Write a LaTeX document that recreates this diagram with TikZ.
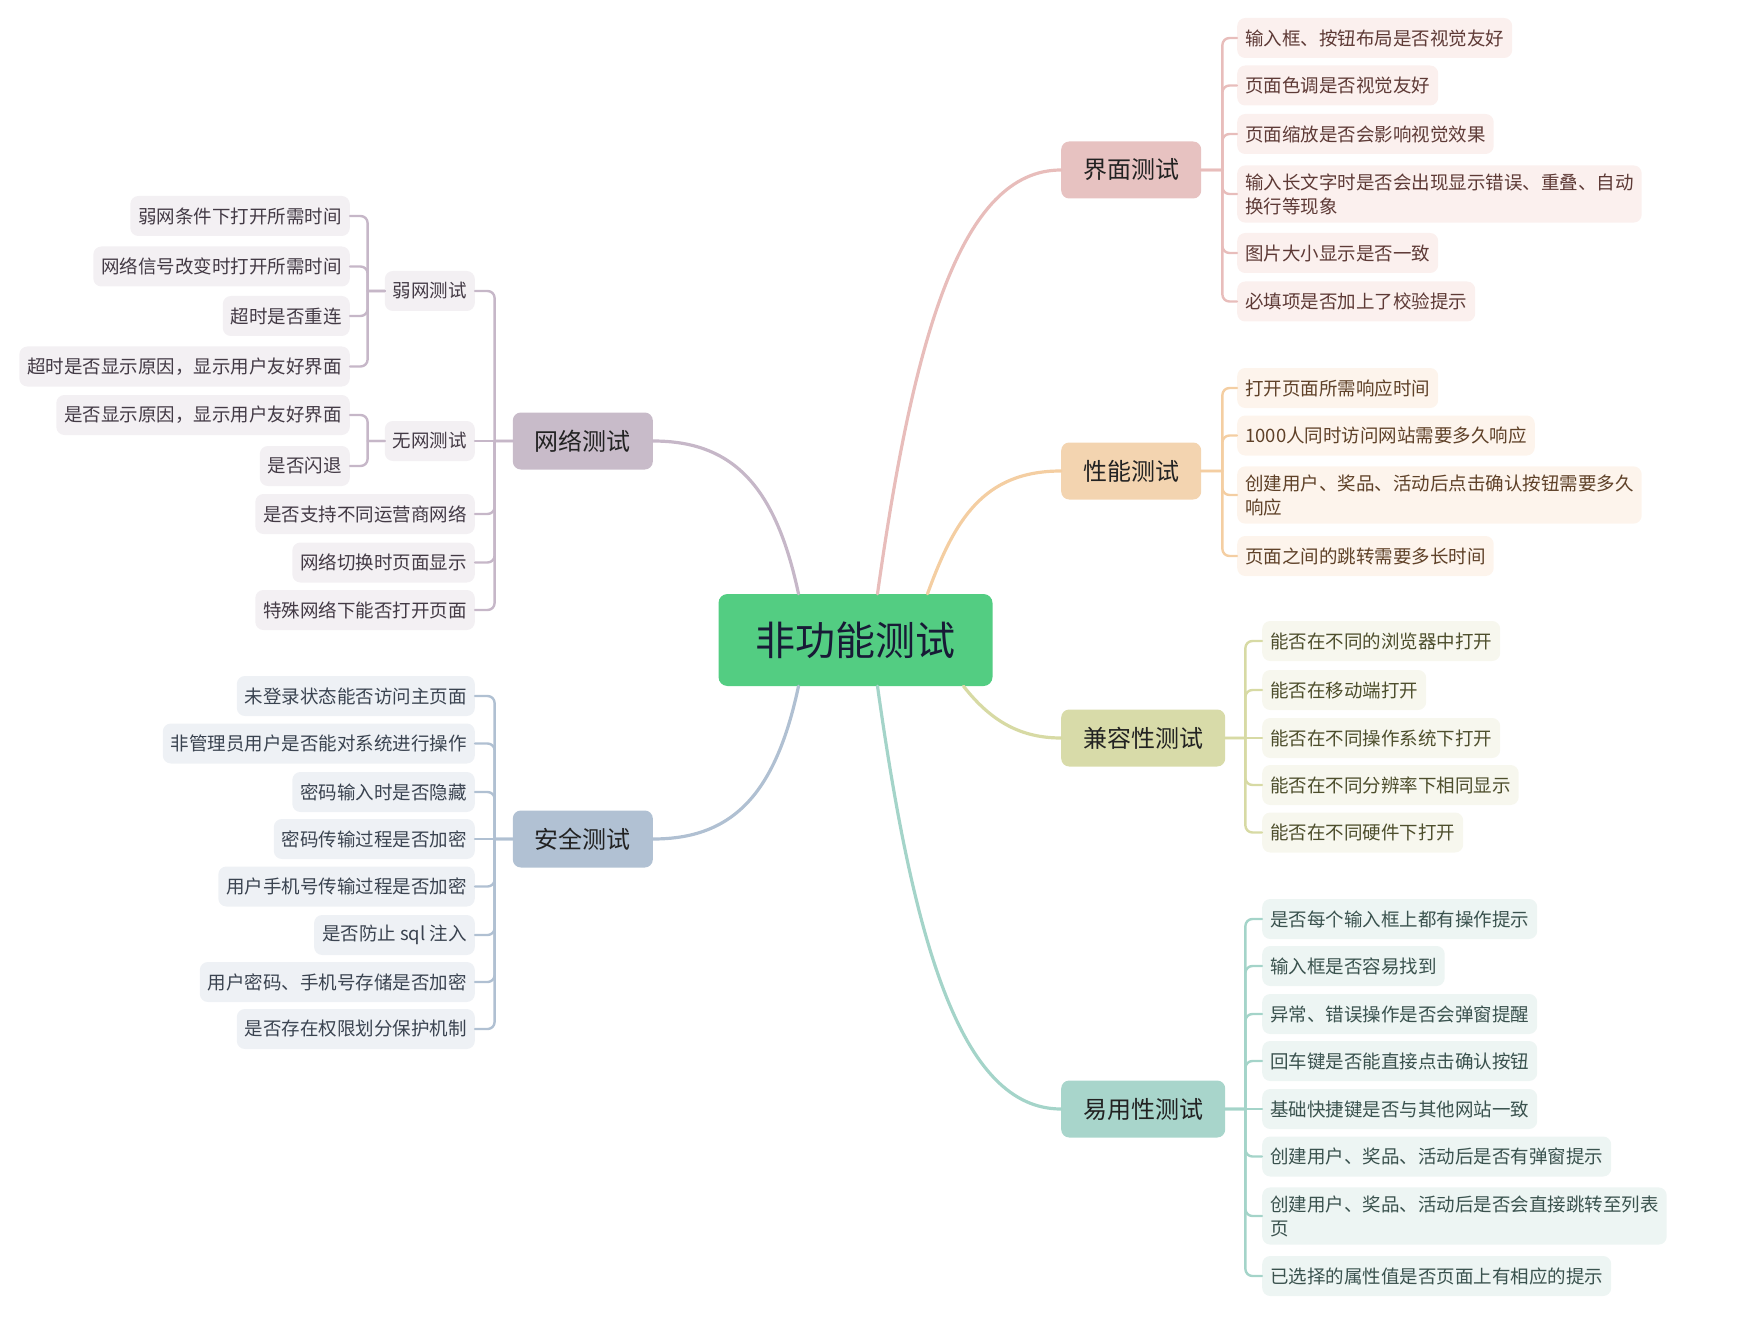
\documentclass[tikz,border=0pt]{standalone}
\usepackage{fontspec}
\setmainfont{Noto Sans CJK SC}

\definecolor{rootFill}{HTML}{53CD82}
\definecolor{rootText}{HTML}{181A36}
\definecolor{topicText}{HTML}{222222}
\definecolor{uiFill}{HTML}{E7C2C1}
\definecolor{uiLine}{HTML}{E8BDBB}
\definecolor{uiLeaf}{HTML}{FBF0EE}
\definecolor{uiText}{HTML}{5E3A36}
\definecolor{perfFill}{HTML}{F3D4B0}
\definecolor{perfLine}{HTML}{F4CEA2}
\definecolor{perfLeaf}{HTML}{FDF4EC}
\definecolor{perfText}{HTML}{5F4128}
\definecolor{compFill}{HTML}{D8DBA9}
\definecolor{compLine}{HTML}{D7DAA4}
\definecolor{compLeaf}{HTML}{F7F7EE}
\definecolor{compText}{HTML}{4D4E2C}
\definecolor{useFill}{HTML}{A8D5CB}
\definecolor{useLine}{HTML}{A4D4C9}
\definecolor{useLeaf}{HTML}{EDF5F3}
\definecolor{useText}{HTML}{3A524E}
\definecolor{netFill}{HTML}{C8BBC9}
\definecolor{netLine}{HTML}{C6B7C8}
\definecolor{netLeaf}{HTML}{F3F0F3}
\definecolor{netText}{HTML}{433A45}
\definecolor{secFill}{HTML}{B1C1D3}
\definecolor{secLine}{HTML}{B0C0D2}
\definecolor{secLeaf}{HTML}{EEF1F5}
\definecolor{secText}{HTML}{3A4350}

\begin{document}
\begin{tikzpicture}[x=1pt,y=1pt,line cap=round,
  root node/.style={rectangle,rounded corners=9pt,fill=rootFill,text=rootText,inner xsep=37pt,minimum height=92pt,font=\fontsize{40}{48}\selectfont},
  topic node/.style={rectangle,rounded corners=8pt,inner xsep=22pt,minimum height=57pt,text=topicText,font=\fontsize{24}{29}\selectfont},
  leaf node/.style={rectangle,rounded corners=8pt,inner xsep=8pt,inner ysep=8pt,minimum height=40pt,align=left,font=\fontsize{18.5}{24}\selectfont},
  ui leaf/.style={leaf node,anchor=west,fill=uiLeaf,text=uiText},
  perf leaf/.style={leaf node,anchor=west,fill=perfLeaf,text=perfText},
  comp leaf/.style={leaf node,anchor=west,fill=compLeaf,text=compText},
  use leaf/.style={leaf node,anchor=west,fill=useLeaf,text=useText},
  net leaf/.style={leaf node,anchor=east,fill=netLeaf,text=netText},
  sec leaf/.style={leaf node,anchor=east,fill=secLeaf,text=secText},
  elbow/.style={to path={-- ++(#1,0) ++(0,0) [rounded corners=7pt] |- (\tikztotarget)}}]

  \useasboundingbox (0,0) rectangle (1762,-1332);

  \node[root node] (0) at (855.5,-640) {非功能测试};

  \node[topic node,fill=uiFill,anchor=west] (1) at (1061,-170) {界面测试};
  \node[topic node,fill=perfFill,anchor=west] (2) at (1061,-471) {性能测试};
  \node[topic node,fill=compFill,anchor=west] (3) at (1061,-738) {兼容性测试};
  \node[topic node,fill=useFill,anchor=west] (4) at (1061,-1109) {易用性测试};
  \node[topic node,fill=netFill,anchor=east] (5) at (653,-441) {网络测试};
  \node[topic node,fill=secFill,anchor=east] (6) at (653,-839) {安全测试};

  % 界面测试
  \node[ui leaf] (11) at (1237,-38) {输入框、按钮布局是否视觉友好};
  \node[ui leaf] (12) at (1237,-85.5) {页面色调是否视觉友好};
  \node[ui leaf] (13) at (1237,-134) {页面缩放是否会影响视觉效果};
  \node[ui leaf] (14) at (1237,-194) {输入长文字时是否会出现显示错误、重叠、自动\\换行等现象};
  \node[ui leaf] (15) at (1237,-253) {图片大小显示是否一致};
  \node[ui leaf] (16) at (1237,-301.5) {必填项是否加上了校验提示};

  % 性能测试
  \node[perf leaf] (21) at (1237,-388) {打开页面所需响应时间};
  \node[perf leaf] (22) at (1237,-435.5) {1000人同时访问网站需要多久响应};
  \node[perf leaf] (23) at (1237,-495) {创建用户、奖品、活动后点击确认按钮需要多久\\响应};
  \node[perf leaf] (24) at (1237,-556) {页面之间的跳转需要多长时间};

  % 兼容性测试
  \node[comp leaf] (31) at (1262,-641) {能否在不同的浏览器中打开};
  \node[comp leaf] (32) at (1262,-690) {能否在移动端打开};
  \node[comp leaf] (33) at (1262,-738) {能否在不同操作系统下打开};
  \node[comp leaf] (34) at (1262,-785) {能否在不同分辨率下相同显示};
  \node[comp leaf] (35) at (1262,-832.5) {能否在不同硬件下打开};

  % 易用性测试
  \node[use leaf] (41) at (1262,-919) {是否每个输入框上都有操作提示};
  \node[use leaf] (42) at (1262,-966) {输入框是否容易找到};
  \node[use leaf] (43) at (1262,-1014) {异常、错误操作是否会弹窗提醒};
  \node[use leaf] (44) at (1262,-1061) {回车键是否能直接点击确认按钮};
  \node[use leaf] (45) at (1262,-1109) {基础快捷键是否与其他网站一致};
  \node[use leaf] (46) at (1262,-1156.5) {创建用户、奖品、活动后是否有弹窗提示};
  \node[use leaf] (47) at (1262,-1216) {创建用户、奖品、活动后是否会直接跳转至列表\\页};
  \node[use leaf] (48) at (1262,-1276) {已选择的属性值是否页面上有相应的提示};

  % 网络测试
  \node[net leaf] (51) at (475,-291) {弱网测试};
  \node[net leaf] (52) at (475,-441) {无网测试};
  \node[net leaf] (53) at (475,-514) {是否支持不同运营商网络};
  \node[net leaf] (54) at (475,-562.5) {网络切换时页面显示};
  \node[net leaf] (55) at (475,-610) {特殊网络下能否打开页面};
  \node[net leaf] (511) at (350,-216) {弱网条件下打开所需时间};
  \node[net leaf] (512) at (350,-266.5) {网络信号改变时打开所需时间};
  \node[net leaf] (513) at (350,-316) {超时是否重连};
  \node[net leaf] (514) at (350,-366.5) {超时是否显示原因，显示用户友好界面};
  \node[net leaf] (521) at (350,-415) {是否显示原因，显示用户友好界面};
  \node[net leaf] (522) at (350,-466) {是否闪退};

  % 安全测试
  \node[sec leaf] (61) at (475,-696) {未登录状态能否访问主页面};
  \node[sec leaf] (62) at (475,-743.5) {非管理员用户是否能对系统进行操作};
  \node[sec leaf] (63) at (475,-792) {密码输入时是否隐藏};
  \node[sec leaf] (64) at (475,-839) {密码传输过程是否加密};
  \node[sec leaf] (65) at (475,-886.5) {用户手机号传输过程是否加密};
  \node[sec leaf] (66) at (475,-935) {是否防止 sql 注入};
  \node[sec leaf] (67) at (475,-982) {用户密码、手机号存储是否加密};
  \node[sec leaf] (68) at (475,-1029) {是否存在权限划分保护机制};

  \path[line width=3.2pt]
    ([xshift=-57pt]0.north) edge[out=102,in=0,out distance=110pt,in distance=80pt,netLine] (5.east)
    ([xshift=-57pt]0.south) edge[out=-102,in=0,out distance=110pt,in distance=80pt,secLine] (6.east)
    ([xshift=22pt]0.north) edge[out=82,in=180,out distance=260pt,in distance=100pt,uiLine] (1.west)
    ([xshift=72pt]0.north) edge[out=70,in=180,out distance=78pt,in distance=78pt,perfLine] (2.west)
    ([xshift=108pt]0.south) edge[out=-52,in=180,out distance=45pt,in distance=40pt,compLine] (3.west)
    ([xshift=22pt]0.south) edge[out=-82,in=180,out distance=260pt,in distance=100pt,useLine] (4.west);

  \path[line width=2.4pt,draw=uiLine]
    (1.east) edge[elbow=21] (11.west)
    (1.east) edge[elbow=21] (12.west)
    (1.east) edge[elbow=21] (13.west)
    (1.east) edge[elbow=21] (14.west)
    (1.east) edge[elbow=21] (15.west)
    (1.east) edge[elbow=21] (16.west);
  \path[line width=2.4pt,draw=perfLine]
    (2.east) edge[elbow=21] (21.west)
    (2.east) edge[elbow=21] (22.west)
    (2.east) edge[elbow=21] (23.west)
    (2.east) edge[elbow=21] (24.west);
  \path[line width=2.4pt,draw=compLine]
    (3.east) edge[elbow=20] (31.west)
    (3.east) edge[elbow=20] (32.west)
    (3.east) edge (33.west)
    (3.east) edge[elbow=20] (34.west)
    (3.east) edge[elbow=20] (35.west);
  \path[line width=2.4pt,draw=useLine]
    (4.east) edge[elbow=20] (41.west)
    (4.east) edge[elbow=20] (42.west)
    (4.east) edge[elbow=20] (43.west)
    (4.east) edge[elbow=20] (44.west)
    (4.east) edge (45.west)
    (4.east) edge[elbow=20] (46.west)
    (4.east) edge[elbow=20] (47.west)
    (4.east) edge[elbow=20] (48.west);
  \path[line width=2.4pt,draw=netLine]
    (5.west) edge[elbow=-18] (51.east)
    (5.west) edge (52.east)
    (5.west) edge[elbow=-18] (53.east)
    (5.west) edge[elbow=-18] (54.east)
    (5.west) edge[elbow=-18] (55.east)
    (51.west) edge[elbow=-17] (511.east)
    (51.west) edge[elbow=-17] (512.east)
    (51.west) edge[elbow=-17] (513.east)
    (51.west) edge[elbow=-17] (514.east)
    (52.west) edge[elbow=-17] (521.east)
    (52.west) edge[elbow=-17] (522.east);
  \path[line width=2.4pt,draw=secLine]
    (6.west) edge[elbow=-18] (61.east)
    (6.west) edge[elbow=-18] (62.east)
    (6.west) edge[elbow=-18] (63.east)
    (6.west) edge (64.east)
    (6.west) edge[elbow=-18] (65.east)
    (6.west) edge[elbow=-18] (66.east)
    (6.west) edge[elbow=-18] (67.east)
    (6.west) edge[elbow=-18] (68.east);
\end{tikzpicture}
\end{document}
